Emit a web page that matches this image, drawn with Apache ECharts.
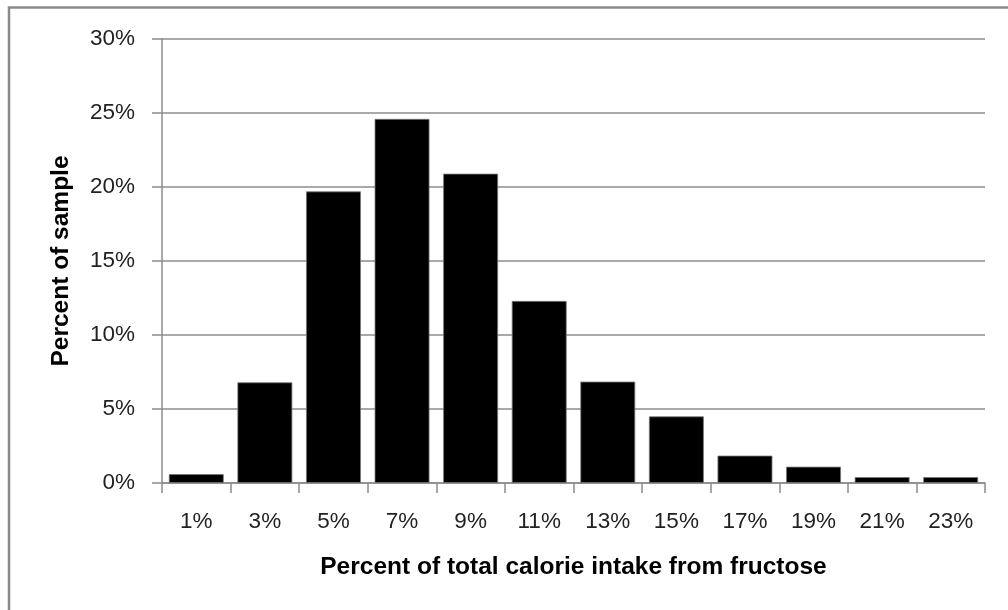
<!DOCTYPE html>
<html>
<head>
<meta charset="utf-8">
<script src="https://cdn.jsdelivr.net/npm/echarts@6/dist/echarts.min.js"></script>
<style>
html,body{margin:0;padding:0;background:#fff;}
#chart{width:1008px;height:610px;}
</style>
</head>
<body>
<div id="chart"></div>
<script>
const categories = ['1%','3%','5%','7%','9%','11%','13%','15%','17%','19%','21%','23%'];
const percentOfSample = [0.6, 6.8, 19.7, 24.6, 20.9, 12.3, 6.85, 4.5, 1.85, 1.1, 0.4, 0.4];
const yTicks = [0, 5, 10, 15, 20, 25, 30];

const chart = echarts.init(document.getElementById('chart'));
const narrow = '"Liberation Sans Narrow", "Liberation Sans", sans-serif';
const regular = '"Liberation Sans", sans-serif';
chart.setOption({
  animation: false,
  backgroundColor: '#fff',
  graphic: [{
    type: 'rect',
    shape: {x: 9, y: 7.5, width: 1100, height: 700},
    style: {fill: 'none', stroke: '#8a8a8a', lineWidth: 2.5},
    silent: true
  }],
  grid: {left: 162, right: 23, top: 39, bottom: 127, containLabel: false},
  xAxis: {
    type: 'category',
    data: categories,
    name: 'Percent of total calorie intake from fructose',
    nameLocation: 'middle',
    nameGap: 72,
    nameTextStyle: {fontFamily: narrow, fontWeight: 'bold', fontSize: 24.5, color: '#000'},
    axisLine: {lineStyle: {color: '#8c8c8c', width: 1.5}},
    axisTick: {show: true, length: 10, lineStyle: {color: '#8c8c8c', width: 1.5}},
    axisLabel: {fontFamily: regular, fontSize: 22.5, color: '#222', margin: 27}
  },
  yAxis: {
    type: 'value',
    min: yTicks[0],
    max: yTicks[yTicks.length - 1],
    interval: 5,
    name: 'Percent of sample',
    nameLocation: 'middle',
    nameGap: 88,
    nameTextStyle: {fontFamily: narrow, fontWeight: 'bold', fontSize: 24.5, color: '#000'},
    axisLine: {show: true, lineStyle: {color: '#8c8c8c', width: 1.5}},
    axisTick: {show: true, length: 10, lineStyle: {color: '#8c8c8c', width: 1.5}},
    splitLine: {lineStyle: {color: '#8c8c8c', width: 1.5}},
    axisLabel: {fontFamily: regular, fontSize: 22.5, color: '#222', margin: 27, formatter: v => v + '%'}
  },
  series: [{
    type: 'bar',
    data: percentOfSample,
    barCategoryGap: '20%',
    itemStyle: {color: '#000', borderColor: '#777', borderWidth: 0.8}
  }]
});
</script>
</body>
</html>
